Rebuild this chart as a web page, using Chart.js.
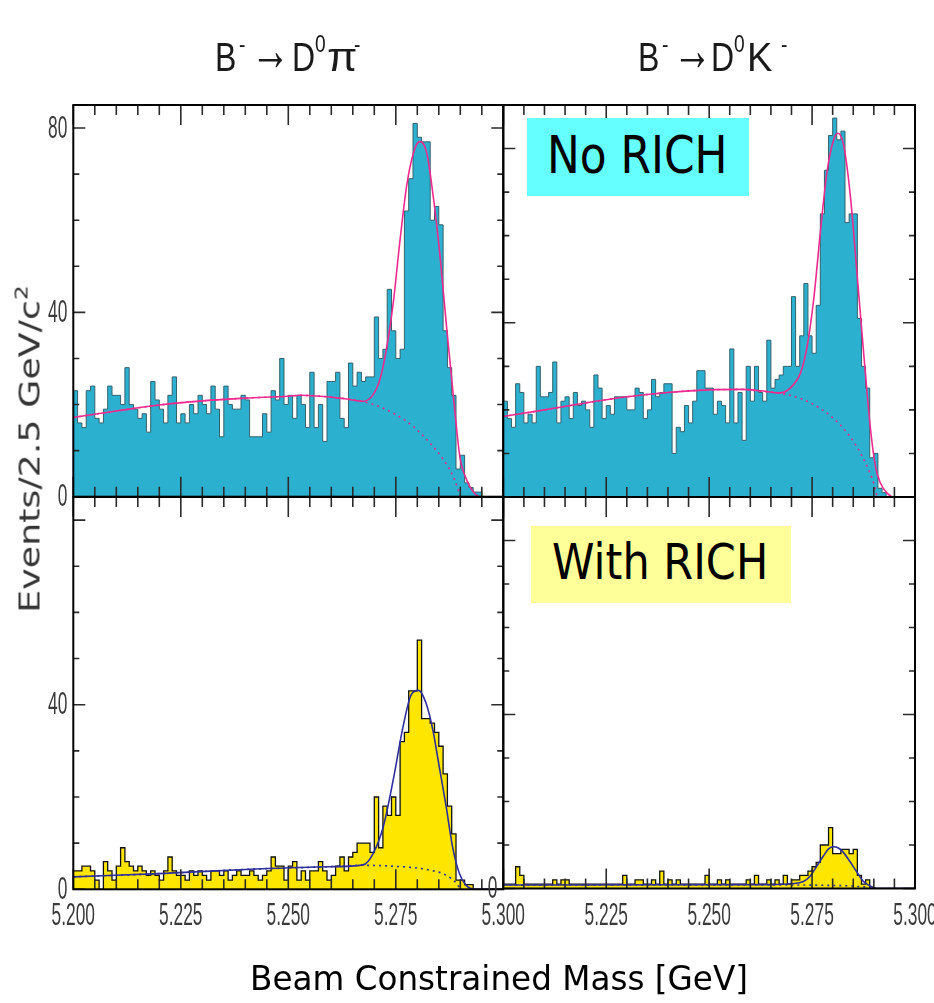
<!DOCTYPE html>
<html>
<head>
<meta charset="utf-8">
<script src="https://cdn.jsdelivr.net/npm/chart.js@4.4.1/dist/chart.umd.min.js"></script>
<style>
  body { margin: 0; background: #fff; width: 934px; height: 1003px; overflow: hidden; position: relative; }
  canvas { position: absolute; left: 0; top: 0; }
  .title { position: absolute; left: 0; top: 37px; height: 40px; font-family: "Liberation Sans", Arial, sans-serif;
           color: #1a1a1a; white-space: nowrap; }
  .title span { position: absolute; top: 0; font-size: 40px; line-height: 40px; transform-origin: left top; transform: scaleX(0.8); }
  .title .up { font-size: 24px; line-height: 24px; top: -5px; }
  .title .arrow { font-size: 60px; line-height: 60px; top: -17px; transform: scaleX(0.65); }
  .tag { position: absolute; font-family: "DejaVu Sans", sans-serif; color: #000; white-space: nowrap; }
  .tag span { display: inline-block; transform-origin: left center; transform: scaleX(0.86); }
  .ytitle { position: absolute; left: 30px; top: 449px; font-family: "DejaVu Sans", sans-serif; font-size: 28px;
            color: #333; white-space: nowrap; transform: translate(-50%, -50%) rotate(-90deg) scaleX(1.3); }
  .ytitle sup { font-size: 18px; vertical-align: 12px; line-height: 0; }
  .xtitle { position: absolute; left: 499px; top: 958px; font-family: "DejaVu Sans", sans-serif; font-size: 34px;
            color: #000; white-space: nowrap; transform: translateX(-50%) scaleX(0.96); }
</style>
</head>
<body>
<canvas id="dpiRich" width="934" height="1003"></canvas>
<canvas id="dkRich" width="934" height="1003"></canvas>
<canvas id="dpiNoRich" width="934" height="1003"></canvas>
<canvas id="dkNoRich" width="934" height="1003"></canvas>

<div class="title">
  <span style="left:215px">B</span><span class="up" style="left:239px">-</span>
  <span class="arrow" style="left:251px">→</span>
  <span style="left:292px">D</span><span class="up" style="left:315px">0</span>
  <span style="left:327px; transform:scaleX(1.1)">π</span><span class="up" style="left:354px">-</span>
</div>
<div class="title">
  <span style="left:638px">B</span><span class="up" style="left:662px">-</span>
  <span class="arrow" style="left:673px">→</span>
  <span style="left:711px">D</span><span class="up" style="left:734px">0</span>
  <span style="left:747px; transform:scaleX(0.95)">K</span><span class="up" style="left:781px">-</span>
</div>
<div class="tag" style="left:527px; top:118px; width:222px; height:78px; background:#66ffff;">
  <span style="position:absolute; left:20px; top:8px; font-size:51px;">No RICH</span></div>
<div class="tag" style="left:531px; top:526px; width:260px; height:77px; background:#ffff99;">
  <span style="position:absolute; left:21px; top:7px; font-size:50px;">With RICH</span></div>
<div class="ytitle">Events/2.5 GeV/c<sup>2</sup></div>
<div class="xtitle">Beam Constrained Mass [GeV]</div>

<script>
// histogram binning: 100 bins of 1 MeV between 5.200 and 5.300 GeV
const massLow = 5.200;
const massHigh = 5.300;
const binWidth = 0.001;

const xLabelsLeft = ['5.200', '5.225', '5.250', '5.275', '5.300'];
const xLabelsRight = ['', '5.225', '5.250', '5.275', '5.300'];

// B- -> D0 pi-, no RICH
const dpiNoRich = [23,16,15,23,24,17,16,19,24,22,22,20,28,20,19,17,18,14,25,21,19,16,22,26,16,18,16,20,18,22,
  20,18,24,19,13,24,20,19,19,22,21,13,13,13,18,14,23,21,30,20,22,17,22,20,15,27,15,20,12,25,
  25,27,17,15,29,24,27,25,26,26,39,30,32,45,36,30,32,62,69,81,78,77,77,60,63,59,36,28,22,6,
  9,3,2,1,1,0,0,0,0,0];
// B- -> D0 K-, no RICH
const dkNoRich = [22,18,16,26,24,17,19,17,30,23,23,24,31,17,22,23,18,24,21,22,20,16,28,25,18,21,19,23,23,23,
  20,20,25,24,18,20,27,23,24,26,26,10,16,15,21,17,22,29,29,25,25,19,22,21,17,34,17,24,13,30,
  22,30,24,22,36,25,27,28,30,30,46,30,37,49,37,33,44,65,75,83,87,82,84,63,65,65,41,30,25,9,
  10,2,1,0,0,0,0,0,0,0];
// B- -> D0 pi-, with RICH
const dpiRich = [4,4,5,5,4,2,0,6,4,2,5,9,6,5,4,5,4,3,4,3,2,4,7,4,3,3,2,4,3,4,
  3,2,4,4,3,4,2,3,4,3,3,4,3,2,3,4,7,5,5,2,5,6,2,4,2,4,4,6,4,2,
  3,5,7,4,7,8,10,10,10,8,20,9,18,16,20,16,32,34,43,43,54,37,37,36,34,31,25,18,12,2,
  2,1,1,0,0,0,0,0,0,0];
// B- -> D0 K-, with RICH
const dkRich = [1,1,1,5,3,1,1,1,1,1,1,1,2,1,2,2,1,1,1,1,1,1,1,1,1,1,1,1,1,3,
  1,1,2,2,1,1,2,1,4,1,2,1,2,1,1,1,1,1,1,3,1,1,2,1,2,1,1,1,1,2,
  1,3,1,1,2,1,2,1,3,1,2,2,3,3,4,5,6,10,10,14,8,8,9,9,8,9,3,1,2,0,
  0,0,0,0,0,0,0,0,0,0];

// fitted curves (signal + background) and background only
const dpiNoRichFitX = [5.200,5.210,5.220,5.230,5.240,5.250,5.2527,5.2628,5.2675,5.2697,5.2713,5.2728,5.2744,5.2759,
  5.2775,5.2791,5.2806,5.2822,5.2837,5.2853,5.2868,5.2884,5.2899,5.2915,5.2930,5.2946,5.300];
const dpiNoRichFitY = [17.2,18.6,19.9,20.8,21.4,21.8,22.0,21.3,20.7,22.1,25.4,31.9,42.0,55.0,
  67.3,74.6,77.1,74.6,65.2,52.1,36.9,21.7,8.7,3.6,1.1,0,0];
const dpiNoRichBkgX = [5.200,5.210,5.220,5.230,5.240,5.250,5.2527,5.2628,5.2675,5.2713,5.2752,5.2791,5.2830,5.2861,5.2884,5.2895,5.2900];
const dpiNoRichBkgY = [17.2,18.6,19.9,20.8,21.4,21.8,22.0,21.3,20.6,19.5,17.7,15.2,11.6,8.0,4.3,1.5,0];

const dkNoRichFitX = [5.200,5.210,5.220,5.230,5.240,5.250,5.258,5.2624,5.2673,5.2705,5.2722,5.2738,5.2754,5.2770,
  5.2786,5.2803,5.2813,5.2827,5.2843,5.2859,5.2876,5.2892,5.2904,5.2916,5.2932,5.2949,5.300];
const dkNoRichFitY = [18.5,20.0,21.6,23.0,24.0,24.6,24.7,24.4,23.9,25.8,28.5,34.6,45.4,60.7,
  74.5,82.2,83.5,80.6,69.1,51.5,32.3,15.5,7.0,3.2,0.9,0,0];
const dkNoRichBkgX = [5.200,5.210,5.220,5.230,5.240,5.250,5.258,5.2624,5.2673,5.2722,5.2770,5.2819,5.2859,5.2884,5.2900,5.2908];
const dkNoRichBkgY = [18.5,20.0,21.6,23.0,24.0,24.6,24.7,24.3,23.8,22.6,20.3,16.5,11.5,6.9,3.1,0];

const dpiRichFitX = [5.200,5.220,5.240,5.2597,5.2674,5.2697,5.2721,5.2744,5.2767,5.2786,5.2803,5.2820,5.2836,5.2851,
  5.2867,5.2882,5.2898,5.2913,5.2937,5.300];
const dpiRichFitY = [2.7,3.4,4.3,4.9,5.3,7.7,13.6,23.7,35.3,42.2,43.1,40.4,34.6,26.6,18.0,9.2,3.4,0.9,0,0];
const dpiRichBkgX = [5.200,5.220,5.240,5.2597,5.2674,5.2744,5.2822,5.2868,5.2891,5.2900];
const dpiRichBkgY = [2.7,3.4,4.3,4.9,5.2,5.0,4.3,3.0,1.3,0];

const dkRichFitX = [5.200,5.265,5.270,5.2729,5.2745,5.2761,5.2777,5.2790,5.2802,5.2814,5.2826,5.2842,5.2858,5.2875,5.2891,5.2907,5.300];
const dkRichFitY = [0.8,0.9,1.1,1.6,2.8,5.1,7.4,9.1,9.6,9.3,8.3,6.2,3.9,1.6,0.6,0,0];
const dkRichBkgX = [5.200,5.270,5.280,5.286,5.289,5.2905];
const dkRichBkgY = [0.8,0.8,0.7,0.5,0.2,0];

const pts = (xs, ys) => xs.map((x, i) => ({ x, y: ys[i] }));

// step outline: one point per bin low edge, closing point at the upper edge
function histPoints(counts) {
  const out = counts.map((c, i) => ({ x: massLow + i * binWidth, y: c }));
  out.push({ x: massHigh, y: counts[counts.length - 1] });
  return out;
}

function narrowText(ctx, text, x, y, align, base) {
  ctx.save();
  ctx.translate(x, y);
  ctx.scale(0.56, 1);
  ctx.textAlign = align;
  ctx.textBaseline = base;
  ctx.fillText(text, 0, 0);
  ctx.restore();
}

// frame, inward ticks on all four sides, tick labels
const panelFrame = {
  id: 'panelFrame',
  afterDatasetsDraw(chart, args, o) {
    const { ctx, chartArea: a } = chart;
    const xs = chart.scales.x, ys = chart.scales.y;
    ctx.save();
    ctx.strokeStyle = '#2b2b2b';
    ctx.lineWidth = 1.6;
    ctx.beginPath();
    for (let i = 0; i <= 20; i++) {
      const px = xs.getPixelForValue(massLow + i * 0.005);
      const len = i % 5 === 0 ? 20 : 10;
      ctx.moveTo(px, a.bottom); ctx.lineTo(px, a.bottom - len);
      ctx.moveTo(px, a.top); ctx.lineTo(px, a.top + len);
    }
    for (let v = 0; v <= o.yMax; v += 10) {
      const py = ys.getPixelForValue(v);
      const len = v % 40 === 0 ? 12 : 6;
      ctx.moveTo(a.left, py); ctx.lineTo(a.left + len, py);
      ctx.moveTo(a.right, py); ctx.lineTo(a.right - len, py);
    }
    ctx.stroke();

    ctx.strokeStyle = '#000';
    ctx.lineWidth = 2;
    ctx.strokeRect(a.left, a.top, a.right - a.left, a.bottom - a.top);

    ctx.fillStyle = '#3a3a3a';
    ctx.font = '31px "Liberation Sans", Arial, sans-serif';
    o.yLabels.forEach(t => narrowText(ctx, t, a.left - 6, ys.getPixelForValue(+t) + 1, 'right', 'middle'));
    o.xLabels.forEach(t => {
      if (t) narrowText(ctx, t, xs.getPixelForValue(+t), a.bottom + 12, 'center', 'top');
    });
    ctx.restore();
  }
};

function drawPanel(id, area, yMax, counts, fit, bkg, look, labels) {
  new Chart(document.getElementById(id), {
    type: 'line',
    data: {
      datasets: [
        {
          data: pts(fit[0], fit[1]),
          borderColor: look.curve,
          borderWidth: 1.6,
          cubicInterpolationMode: 'monotone',
          pointRadius: 0,
          fill: false
        },
        {
          data: pts(bkg[0], bkg[1]),
          borderColor: look.curve,
          borderWidth: 1.6,
          borderDash: [2, 4],
          cubicInterpolationMode: 'monotone',
          pointRadius: 0,
          fill: false
        },
        {
          data: histPoints(counts),
          stepped: 'before',
          borderColor: look.edge,
          borderWidth: look.edgeWidth,
          backgroundColor: look.fill,
          pointRadius: 0,
          fill: 'origin'
        }
      ]
    },
    options: {
      responsive: false,
      animation: false,
      events: [],
      layout: {
        padding: { left: area[0], top: area[1], right: 934 - area[2], bottom: 1003 - area[3] }
      },
      scales: {
        x: { type: 'linear', min: massLow, max: massHigh, display: false },
        y: { type: 'linear', min: 0, max: yMax, display: false }
      },
      plugins: {
        legend: { display: false },
        tooltip: { enabled: false },
        panelFrame: { yMax: yMax, xLabels: labels.x, yLabels: labels.y }
      }
    },
    plugins: [panelFrame]
  });
}

const cyan = { fill: '#2bb1cf', edge: '#35626d', edgeWidth: 1, curve: '#ee2a8e' };
const yellow = { fill: '#ffe600', edge: '#111', edgeWidth: 1.3, curve: '#2e2e9c' };

drawPanel('dpiRich', [73.3, 497, 503.3, 889.3], 85, dpiRich, [dpiRichFitX, dpiRichFitY], [dpiRichBkgX, dpiRichBkgY],
  yellow, { x: xLabelsLeft, y: ['0', '40'] });
drawPanel('dkRich', [503.3, 497, 915, 888.5], 90, dkRich, [dkRichFitX, dkRichFitY], [dkRichBkgX, dkRichBkgY],
  yellow, { x: xLabelsRight, y: ['0'] });
drawPanel('dpiNoRich', [73.3, 105, 503.3, 496.7], 85, dpiNoRich, [dpiNoRichFitX, dpiNoRichFitY], [dpiNoRichBkgX, dpiNoRichBkgY],
  cyan, { x: [], y: ['0', '40', '80'] });
drawPanel('dkNoRich', [503.3, 105, 915, 497], 90, dkNoRich, [dkNoRichFitX, dkNoRichFitY], [dkNoRichBkgX, dkNoRichBkgY],
  cyan, { x: [], y: [] });
</script>
</body>
</html>
